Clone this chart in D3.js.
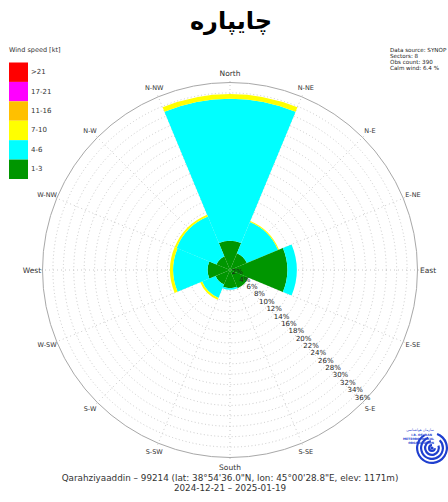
<!DOCTYPE html>
<html><head><meta charset="utf-8">
<script src="https://cdn.jsdelivr.net/npm/d3@7"></script>
<style>body{margin:0;background:#fff}svg{display:block}</style>
</head><body>
<svg id="c" width="448" height="502"></svg>
<script>
// ---- data ----
const sectors = ["N","NE","E","SE","S","SW","W","NW"];
const speedClasses = ["1-3","4-6","7-10","11-16","17-21",">21"];
const classColors = ["#009600","#00ffff","#ffff00","#ffc000","#ff00ff","#ff0000"];
// percentage of observations per sector for each speed class
const s1_3   = [5.6, 3.5, 11.0, 3.8, 3.5, 3.0, 4.3, 2.8];
const s4_6   = [27.3, 6.5, 1.8, 0.0, 0.3, 2.8, 6.6, 8.3];
const s7_10  = [0.9, 0.2, 0.0, 0.0, 0.0, 0.4, 0.6, 0.4];
const s11_16 = [0, 0, 0, 0, 0, 0, 0, 0];
const s17_21 = [0, 0, 0, 0, 0, 0, 0, 0];
const s21p   = [0, 0, 0, 0, 0, 0, 0, 0];
const ringTicks = [2,4,6,8,10,12,14,16,18,20,22,24,26,28,30,32,34,36];
const dirLabels = ["North","N-NE","N-E","E-NE","East","E-SE","S-E","S-SE","South","S-SW","S-W","W-SW","West","W-NW","N-W","N-NW"];
const infoLines = ["Data source: SYNOP","Sectors: 8","Obs count: 390","Calm wind: 6.4 %"];
const titleText = "چايپاره";
const footer1 = "Qarahziyaaddin – 99214 (lat: 38°54'36.0\"N, lon: 45°00'28.8\"E, elev: 1171m)";
const footer2 = "2024-12-21 – 2025-01-19";

const series = [s1_3, s4_6, s7_10, s11_16, s17_21, s21p];

// ---- layout ----
const svg = d3.select("#c");
const cx = 230, cy = 270, R = 187.5;
const rScale = d3.scaleLinear().domain([0, 36]).range([0, R]);
const FONT = "DejaVu Sans, sans-serif";
const toRad = d => d * Math.PI / 180;

svg.append("rect").attr("width",448).attr("height",502).attr("fill","#fff");

// title
svg.append("text").attr("x",231).attr("y",29).attr("text-anchor","middle")
  .attr("font-family",FONT).attr("font-weight","bold").attr("font-size",24)
  .attr("fill","#000").text(titleText);

const g = svg.append("g").attr("transform",`translate(${cx},${cy})`);

// grid rings (dotted)
g.selectAll("circle.ring").data(ringTicks.slice(0,-1)).join("circle")
  .attr("r", d => rScale(d)).attr("fill","none")
  .attr("stroke","#bdbdbd").attr("stroke-width",0.8).attr("stroke-dasharray","1,2.5");
// spokes
const spokeAngles = d3.range(16).map(i => i * 22.5);
g.selectAll("line.spoke").data(spokeAngles).join("line")
  .attr("x1",0).attr("y1",0)
  .attr("x2", d => Math.sin(toRad(d)) * (R + 4))
  .attr("y2", d => -Math.cos(toRad(d)) * (R + 4))
  .attr("stroke","#bdbdbd").attr("stroke-width",0.8).attr("stroke-dasharray","1,3");
// outer circle
g.append("circle").attr("r",R).attr("fill","none").attr("stroke","#a8a8a8").attr("stroke-width",1);

// wedges
const arc = d3.arc();
const wedges = [];
sectors.forEach((s, i) => {
  let cum = 0;
  series.forEach((arr, k) => {
    const v = arr[i];
    if (v > 0) {
      wedges.push({k, inner: cum, outer: cum + v, a: i * 45});
    }
    cum += v;
  });
});
g.selectAll("path.w").data(wedges).join("path")
  .attr("d", d => arc({innerRadius: rScale(d.inner), outerRadius: rScale(d.outer),
                       startAngle: toRad(d.a - 22.5), endAngle: toRad(d.a + 22.5)}))
  .attr("fill", d => classColors[d.k]);

// percent labels along SE
const la = toRad(135);
g.selectAll("text.pct").data(ringTicks).join("text")
  .attr("x", d => Math.sin(la) * rScale(d))
  .attr("y", d => -Math.cos(la) * rScale(d) - 3)
  .attr("text-anchor","middle").attr("font-family",FONT).attr("font-size",7)
  .attr("fill","#222").text(d => d + "%");

// direction labels
g.selectAll("text.dir").data(dirLabels).join("text")
  .attr("x", (d,i) => Math.sin(toRad(i*22.5)) * 198)
  .attr("y", (d,i) => -Math.cos(toRad(i*22.5)) * 197)
  .attr("text-anchor","middle").attr("dominant-baseline","central")
  .attr("font-family",FONT).attr("font-size", (d,i) => i % 4 === 0 ? 7.5 : 6.5)
  .attr("fill","#333").text(d => d);

// legend
const lg = svg.append("g");
lg.append("text").attr("x",9).attr("y",52).attr("font-family",FONT).attr("font-size",6.5)
  .attr("fill","#333").text("Wind speed [kt]");
const legendOrder = d3.range(speedClasses.length).reverse();
const ly = d3.scaleBand().domain(legendOrder).range([62.5, 179]);
lg.selectAll("rect").data(legendOrder).join("rect")
  .attr("x",9).attr("y", d => ly(d)).attr("width",19).attr("height", ly.bandwidth())
  .attr("fill", d => classColors[d]);
lg.selectAll("text.l").data(legendOrder).join("text")
  .attr("x",31).attr("y", d => ly(d) + ly.bandwidth()/2)
  .attr("dominant-baseline","central").attr("font-family",FONT).attr("font-size",7)
  .attr("fill","#333").text(d => speedClasses[d]);

// info text
svg.append("g").selectAll("text").data(infoLines).join("text")
  .attr("x",390).attr("y",(d,i) => 52 + i * 6).attr("font-family",FONT).attr("font-size",5.6)
  .attr("fill","#222").text(d => d);

// footer
svg.append("text").attr("x",230).attr("y",481).attr("text-anchor","middle")
  .attr("font-family",FONT).attr("font-size",8.8).attr("fill","#333").text(footer1);
svg.append("text").attr("x",230).attr("y",491).attr("text-anchor","middle")
  .attr("font-family",FONT).attr("font-size",8.8).attr("fill","#333").text(footer2);

// logo
const logo = svg.append("g").attr("transform","translate(432,448)");
const blue = "#1f3fcf";
[16,12,8,4].forEach((rr,i) => {
  logo.append("path").attr("d", d3.arc()({innerRadius: rr-2.2, outerRadius: rr,
      startAngle: toRad(20 + i*25), endAngle: toRad(330 + i*10)}))
    .attr("fill", blue);
});
logo.append("circle").attr("r",1.6).attr("fill",blue);
const lt = svg.append("g").attr("font-family",FONT).attr("fill",blue).attr("text-anchor","end");
lt.append("text").attr("x",434).attr("y",431).attr("font-size",3.5).text("سازمان هواشناسی");
lt.append("text").attr("x",432).attr("y",436).attr("font-size",3).attr("font-weight","bold").text("I.R. OF IRAN");
lt.append("text").attr("x",434).attr("y",440).attr("font-size",3).attr("font-weight","bold").text("METEOROLOGICAL");
lt.append("text").attr("x",434).attr("y",444).attr("font-size",3).attr("font-weight","bold").text("ORGANIZATION");
</script>
</body></html>
